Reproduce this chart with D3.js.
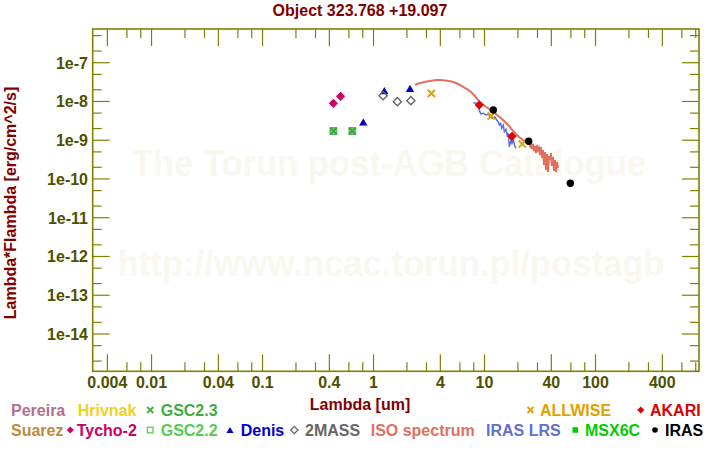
<!DOCTYPE html>
<html><head><meta charset="utf-8">
<script src="https://cdn.jsdelivr.net/npm/d3@7"></script>
<style>html,body{margin:0;padding:0;background:#fff;}svg{display:block;font-family:"Liberation Sans",Arial,sans-serif;font-weight:bold;}</style>
</head><body>
<svg id="c" width="720" height="450"></svg>
<script>
// ---------- data (wavelength um, lambda*F_lambda erg/cm^2/s) ----------
const title = "Object 323.768 +19.097";
const tycho2 = [[0.435, 8.96e-9], [0.505, 1.36e-8]];
const gsc22 = [[0.435, 1.73e-9], [0.644, 1.73e-9]];
const gsc23 = [[0.435, 1.73e-9], [0.644, 1.73e-9]];
const denis = [[0.809, 2.95e-9], [1.25, 1.90e-8], [2.13, 2.18e-8]];
const twomass = [[1.22, 1.41e-8], [1.64, 9.87e-9], [2.17, 1.05e-8]];
const allwise = [[3.32, 1.62e-8], [11.5, 4.22e-9], [21.9, 7.98e-10]];
const akari = [[8.97, 8.10e-9], [17.7, 1.26e-9]];
const iras = [[12.0, 6.03e-9], [25.0, 9.37e-10], [59.3, 7.73e-11]];
const isoSpectrum = [
 [2.37,2.66e-8],[2.52,2.91e-8],[2.68,2.99e-8],[2.85,3.18e-8],[3.03,3.27e-8],[3.23,3.37e-8],
 [3.44,3.47e-8],[3.73,3.58e-8],[4.06,3.58e-8],[4.41,3.47e-8],[4.79,3.37e-8],[5.20,3.18e-8],
 [5.54,2.99e-8],[5.89,2.74e-8],[6.27,2.50e-8],[6.67,2.22e-8],[6.96,2.10e-8],[7.25,1.92e-8],
 [7.56,1.75e-8],[7.88,1.56e-8],[8.21,1.38e-8],[8.56,1.19e-8],[8.92,1.03e-8],[9.30,9.12e-9],
 [9.69,8.34e-9],[10.10,7.63e-9],[10.53,6.98e-9],[10.98,6.39e-9],[11.44,5.84e-9],[11.93,5.35e-9],
 [12.43,5.04e-9],[12.96,4.47e-9],[13.51,4.09e-9],[14.08,3.74e-9],[14.68,3.32e-9],[15.30,2.95e-9],
 [15.95,2.62e-9],[16.62,2.33e-9],[17.33,2.01e-9],[18.07,1.73e-9],[18.83,1.54e-9],[19.63,1.36e-9],
 [20.46,1.21e-9],[21.33,1.11e-9],[22.23,1.01e-9],[23.17,9.54e-10],[24.15,8.99e-10],[25.17,8.48e-10],
 [25.70,7.09e-10],[26.23,8.99e-10],[26.79,5.93e-10],[27.35,7.99e-10],[27.92,5.27e-10],[28.51,7.09e-10],
 [29.11,4.68e-10],[29.72,7.52e-10],[30.34,5.59e-10],[30.97,6.30e-10],[31.62,4.15e-10],[32.28,6.68e-10],
 [32.96,3.48e-10],[33.65,5.59e-10],[34.36,2.29e-10],[35.08,4.96e-10],[35.82,1.70e-10],[36.57,4.41e-10],
 [37.33,1.51e-10],[38.12,3.91e-10],[38.91,3.09e-10],[39.73,4.68e-10],[40.56,2.16e-10],[41.41,3.69e-10],
 [42.28,1.61e-10],[43.17,3.09e-10],[44.07,1.51e-10],[44.99,2.74e-10],[45.94,1.92e-10]
];
const irasLrs = [
 [7.93,9.29e-9],[8.51,8.96e-9],[8.98,6.02e-9],[9.24,4.75e-9],[9.75,4.95e-9],[10.32,4.47e-9],
 [10.82,4.75e-9],[11.21,4.04e-9],[11.86,3.67e-9],[12.43,4.04e-9],[12.88,3.32e-9],[13.31,3.00e-9],
 [13.59,2.47e-9],[13.99,2.73e-9],[14.29,2.03e-9],[14.77,2.47e-9],[15.08,1.66e-9],[15.62,1.91e-9],
 [16.05,1.23e-9],[16.39,1.51e-9],[16.73,6.80e-10],[17.33,1.01e-9],[17.69,8.32e-10],[18.17,1.01e-9],
 [18.82,6.80e-10],[19.22,6.18e-10]
];
const xMajorTicks = [0.004, 0.01, 0.04, 0.1, 0.4, 1, 4, 10, 40, 100, 400];
const xTickLabels = ["0.004","0.01","0.04","0.1","0.4","1","4","10","40","100","400"];
const xMinorTicks = [0.006,0.008,0.02,0.03,0.06,0.08,0.2,0.3,0.6,0.8,2,3,6,8,20,30,60,80,200,300,600,800];
const yMajorTicks = [1e-7,1e-8,1e-9,1e-10,1e-11,1e-12,1e-13,1e-14];
const yTickLabels = ["1e-7","1e-8","1e-9","1e-10","1e-11","1e-12","1e-13","1e-14"];
const yMinorTicks = [5e-7,2e-7,5e-8,2e-8,5e-9,2e-9,5e-10,2e-10,5e-11,2e-11,5e-12,2e-12,5e-13,2e-13,5e-14,2e-14,5e-15,2e-15];
const legendNames = ["Pereira","Hrivnak","GSC2.3","ALLWISE","AKARI","Suarez","Tycho-2","GSC2.2","Denis","2MASS","ISO spectrum","IRAS LRS","MSX6C","IRAS"];

// ---------- layout ----------
const L = 92.7, R = 699, T = 29, B = 371.3;
const svg = d3.select("#c");
const x = d3.scaleLog().domain([0.00295, 856]).range([L, R]);
const y = d3.scaleLog().domain([1.09e-15, 7.41e-7]).range([B, T]);
const frameCol = "#808000", tickTxt = "#4f4f00", dark = "#800000";

// watermark
svg.append("text").attr("x", 389).attr("y", 176).attr("text-anchor","middle")
  .attr("font-size", 36).attr("fill", "#faf7f0").attr("textLength", 514).attr("lengthAdjust","spacingAndGlyphs")
  .text("The Torun post-AGB Catalogue");
svg.append("text").attr("x", 391).attr("y", 276).attr("text-anchor","middle")
  .attr("font-size", 36).attr("fill", "#faf7f0").attr("textLength", 547).attr("lengthAdjust","spacingAndGlyphs")
  .text("http://www.ncac.torun.pl/postagb");

// frame + ticks
const g = svg.append("g").attr("stroke", frameCol).attr("stroke-width", 1.2);
function xt(v, len){
  g.append("line").attr("x1", x(v)).attr("x2", x(v)).attr("y1", B).attr("y2", B-len);
  g.append("line").attr("x1", x(v)).attr("x2", x(v)).attr("y1", T).attr("y2", T+len);
}
function yt(v, len){
  g.append("line").attr("y1", y(v)).attr("y2", y(v)).attr("x1", L).attr("x2", L+len);
  g.append("line").attr("y1", y(v)).attr("y2", y(v)).attr("x1", R).attr("x2", R-len);
}
xMajorTicks.forEach(v => xt(v, 17)); xMinorTicks.forEach(v => xt(v, 9));
yMajorTicks.forEach(v => yt(v, 17)); yMinorTicks.forEach(v => yt(v, 9));
g.append("rect").attr("x", L).attr("y", T).attr("width", R-L).attr("height", B-T)
  .attr("fill","none").attr("stroke-width", 1.6);

svg.append("g").selectAll("text").data(xMajorTicks).join("text")
  .attr("x", d => x(d)).attr("y", 387.5).attr("text-anchor","middle").attr("font-size",16).attr("fill",tickTxt)
  .text((d,i) => xTickLabels[i]);
svg.append("g").selectAll("text").data(yMajorTicks).join("text")
  .attr("x", 88).attr("y", d => y(d)+5.8).attr("text-anchor","end").attr("font-size",16).attr("fill",tickTxt)
  .text((d,i) => yTickLabels[i]);

// titles
svg.append("text").attr("x", 360).attr("y", 16).attr("text-anchor","middle").attr("font-size",16).attr("fill",dark).text(title);
svg.append("text").attr("x", 360).attr("y", 409.5).attr("text-anchor","middle").attr("font-size",16).attr("fill",dark).text("Lambda [um]");
svg.append("text").attr("transform","translate(16,203) rotate(-90)").attr("text-anchor","middle").attr("font-size",16).attr("fill",dark)
  .text("Lambda*Flambda [erg/cm^2/s]");

// ---------- marks ----------
const plot = svg.append("g");
const line = d3.line().x(d => x(d[0])).y(d => y(d[1]));
plot.append("path").datum(irasLrs).attr("d", line).attr("fill","none").attr("stroke","#5a6ad8").attr("stroke-width",1.4);
plot.append("path").datum(isoSpectrum).attr("d", line).attr("fill","none").attr("stroke","#e07060").attr("stroke-width",2);

const shapes = {
  diamond: r => `M0,${-r}L${r},0L0,${r}L${-r},0Z`,
  triangle: r => `M0,${-r*0.85}L${r},${r*0.85}L${-r},${r*0.85}Z`,
  square: r => `M${-r},${-r}H${r}V${r}H${-r}Z`,
  cross: r => `M${-r},${-r}L${r},${r}M${-r},${r}L${r},${-r}`
};
function marks(data, shape, r, fill, stroke, sw){
  plot.append("g").selectAll("path").data(data).join("path")
    .attr("transform", d => `translate(${x(d[0])},${y(d[1])})`)
    .attr("d", shapes[shape](r)).attr("fill", fill).attr("stroke", stroke).attr("stroke-width", sw);
}
marks(gsc22, "square", 3.2, "#7fd07f", "#55bb55", 1.4);
marks(gsc23, "cross", 3.2, "none", "#3a9a3a", 1.6);
marks(tycho2, "diamond", 4.6, "#cc0066", "none", 0);
marks(denis, "triangle", 4.2, "#0000cc", "none", 0);
marks(twomass, "diamond", 4.1, "none", "#666666", 1.4);
marks(allwise, "cross", 3.6, "none", "#e0a000", 2);
marks(akari, "diamond", 4.6, "#dd0000", "none", 0);
plot.append("g").selectAll("circle").data(iras).join("circle")
  .attr("cx", d => x(d[0])).attr("cy", d => y(d[1])).attr("r", 3.7).attr("fill", "#000");

// ---------- legend ----------
const legendColors = ["#b07090","#f0d020","#44aa44","#e0a000","#dd0000","#c08840","#cc0066","#55cc55","#0000cc","#666666","#e07060","#6070d0","#00cc00","#000000"];
const legendMarker = [null,null,"cross","cross","diamond",null,"diamond","square","triangle","diamond",null,null,"square","circle"];
const legendMarkerFill = [null,null,false,false,true,null,true,false,true,false,null,null,true,true];
const legendTextX = [11,77.7,160.7,540,650,11,76.7,160.7,240.7,305,370.7,486,585,665];
const legendMarkX = [0,0,150.3,530.5,640.8,0,70.3,150.2,230,294.3,0,0,575.3,655];
const legendRow = [0,0,0,0,0,1,1,1,1,1,1,1,1,1];
const lg = svg.append("g");
legendNames.forEach((n,i) => {
  const by = legendRow[i] ? 436 : 415.7, cy = legendRow[i] ? 430 : 410;
  lg.append("text").attr("x", legendTextX[i]).attr("y", by).attr("font-size",16).attr("fill",legendColors[i]).text(n);
  const m = legendMarker[i];
  if (!m) return;
  if (m === "circle") {
    lg.append("circle").attr("cx", legendMarkX[i]).attr("cy", cy).attr("r", 2.8).attr("fill", legendColors[i]);
  } else {
    const r = m === "cross" ? 3 : m === "square" ? 2.8 : 3.6;
    lg.append("path").attr("transform", `translate(${legendMarkX[i]},${cy})`).attr("d", shapes[m](r))
      .attr("fill", legendMarkerFill[i] ? legendColors[i] : "none")
      .attr("stroke", legendMarkerFill[i] ? "none" : legendColors[i]).attr("stroke-width", m === "cross" ? 1.8 : 1.3);
  }
});
</script>
</body></html>
